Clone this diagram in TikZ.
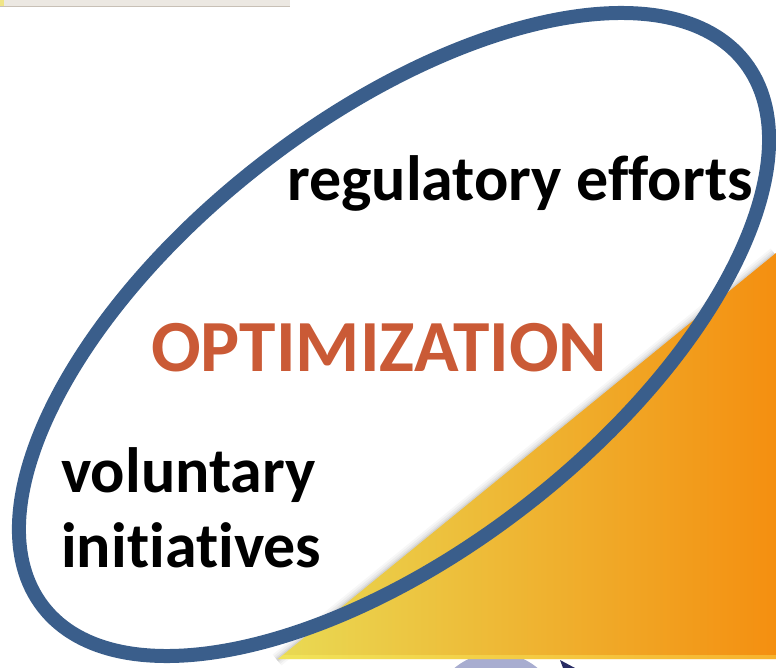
\documentclass[tikz,border=0pt]{standalone}
\usepackage{fontspec}
\setmainfont{Carlito}[Ligatures=NoCommon]
\definecolor{ringblue}{RGB}{58,94,139}
\definecolor{optred}{RGB}{202,90,54}
\definecolor{triyellow}{RGB}{233,218,84}
\definecolor{triorange}{RGB}{244,143,16}
\definecolor{lav}{RGB}{168,173,208}
\definecolor{navy}{RGB}{40,44,100}
\definecolor{barfill}{RGB}{236,232,226}
\definecolor{barline}{RGB}{200,192,182}
\tikzset{
  bodytext/.style={font=\bfseries\fontsize{64}{75}\selectfont, text=black, anchor=base west, inner sep=0pt},
  titletext/.style={font=\bfseries\fontsize{73.5}{80}\selectfont, text=optred, anchor=base west, inner sep=0pt},
  ring/.style={draw=ringblue, line width=14pt}
}
\begin{document}
\begin{tikzpicture}[x=1pt,y=-1pt]
\useasboundingbox (0,0) rectangle (776,668);
% fragments at the edges
\fill[barfill] (0,0) rectangle (290,7);
\draw[barline, line width=1pt] (0,7) -- (290,7);
\fill[triyellow!70!white] (0,0) rectangle (4,6);
\begin{scope}
\clip (0,0) rectangle (776,668);
\fill[lav] (496,718) circle (65);
\fill[navy] (560,660) -- (575,668) -- (563,668) -- cycle;
\end{scope}
% triangle with soft shadow
\coordinate (tA) at (278,659);
\coordinate (tB) at (776,253);
\coordinate (tC) at (776,659);
\foreach \w/\o in {14/0.03,10/0.04,6/0.05,3/0.07}{
  \draw[black, opacity=\o, line width=\w pt] ([xshift=-1pt,yshift=-1pt]tA) -- ([xshift=-1pt,yshift=-1pt]tB);
}
\shade[left color=triyellow, right color=triorange] (tA) -- (tB) -- (tC) -- cycle;
\fill[yellow!60!white, opacity=0.35] (283,655) -- (776,655) -- (776,659) -- (278,659) -- cycle;
% ring
\draw[ring, rotate around={37.84:(394,334.5)}] (394,334.5) ellipse [x radius=444.2, y radius=216];
% texts
\node[bodytext] (reg) at (287,201) {regulatory efforts};
\node[titletext] (opt) at (151,371) {OPTIMIZATION};
\node[bodytext] (vol) at (61,492) {voluntary};
\node[bodytext] (ini) at (61,567) {initiatives};
\end{tikzpicture}
\end{document}
